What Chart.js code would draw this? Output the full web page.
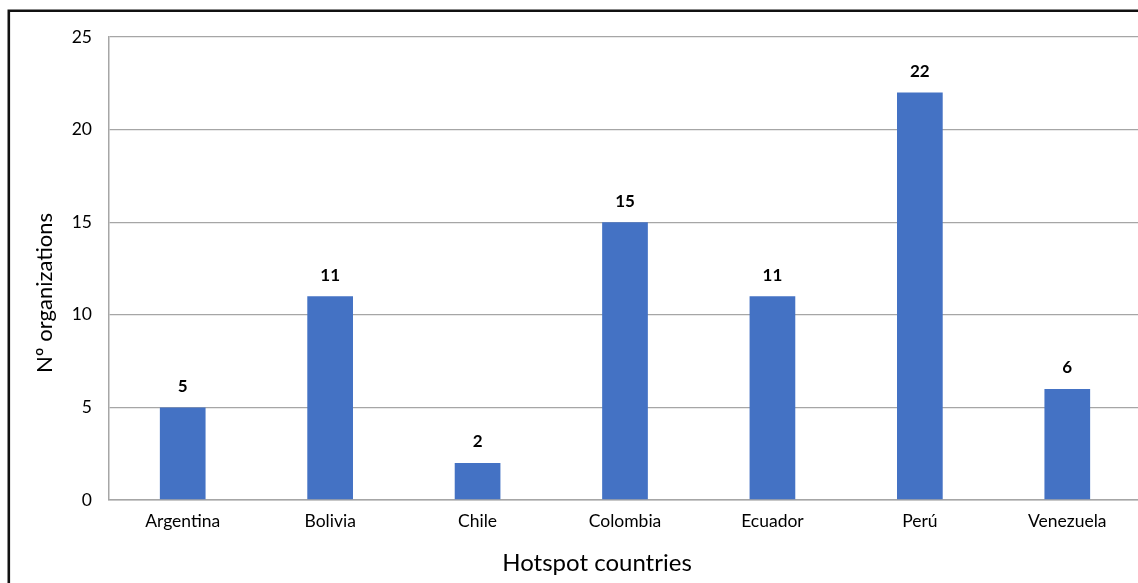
<!DOCTYPE html>
<html>
<head>
<meta charset="utf-8">
<script src="https://cdn.jsdelivr.net/npm/chart.js@4/dist/chart.umd.min.js"></script>
<style>
  html, body { margin: 0; padding: 0; background: #fff; overflow: hidden; }
  #wrap { position: relative; width: 1142px; height: 583px; }
</style>
</head>
<body>
<div id="wrap"><canvas id="c"></canvas></div>
<script>
// Organizations per hotspot country
const countries = ['Argentina', 'Bolivia', 'Chile', 'Colombia', 'Ecuador', 'Perú', 'Venezuela'];
const organizations = [5, 11, 2, 15, 11, 22, 6];
const yTicks = [0, 5, 10, 15, 20, 25];

const FONT = 'Lato, "Liberation Sans", sans-serif';
const GRID = '#a6a6a6';
const BAR = '#4472c4';

// Frame line on the left and top edges, plus the axis titles
const framePlugin = {
  id: 'frame',
  beforeDraw(chart) {
    const ctx = chart.ctx;
    ctx.save();
    ctx.fillStyle = '#fff';
    ctx.fillRect(0, 0, chart.width, chart.height);
    ctx.strokeStyle = '#111';
    ctx.lineWidth = 2.6;
    ctx.beginPath();
    ctx.moveTo(8.8, chart.height + 5);
    ctx.lineTo(8.8, 10.8);
    ctx.lineTo(chart.width + 5, 10.8);
    ctx.stroke();
    ctx.restore();
  },
  afterDraw(chart) {
    const ctx = chart.ctx;
    ctx.save();
    ctx.fillStyle = '#000';
    ctx.textAlign = 'center';
    ctx.textBaseline = 'middle';
    ctx.font = '24px ' + FONT;
    ctx.fillText('Hotspot countries', 597, 563);
    ctx.translate(45, 293);
    ctx.rotate(-Math.PI / 2);
    ctx.font = '22px ' + FONT;
    ctx.fillText('Nº organizations', 0, 0);
    ctx.restore();
  }
};

// Value labels above each bar
const valueLabels = {
  id: 'valueLabels',
  afterDatasetsDraw(chart) {
    const ctx = chart.ctx;
    const meta = chart.getDatasetMeta(0);
    ctx.save();
    ctx.font = 'bold 17px ' + FONT;
    ctx.fillStyle = '#000';
    ctx.textAlign = 'center';
    ctx.textBaseline = 'middle';
    meta.data.forEach((bar, i) => {
      ctx.fillText(String(organizations[i]), bar.x, bar.y - 21);
    });
    ctx.restore();
  }
};

new Chart(document.getElementById('c'), {
  type: 'bar',
  data: {
    labels: countries,
    datasets: [{
      data: organizations,
      backgroundColor: BAR,
      borderWidth: 0,
      categoryPercentage: 1,
      barPercentage: 0.31
    }]
  },
  options: {
    responsive: true,
    maintainAspectRatio: false,
    animation: false,
    devicePixelRatio: 1,
    layout: { padding: { top: 37, right: 1, left: 0, bottom: 0 } },
    plugins: {
      legend: { display: false },
      tooltip: { enabled: false }
    },
    scales: {
      x: {
        grid: { display: false, drawTicks: false },
        border: { display: true, color: GRID, width: 1.5 },
        ticks: { color: '#000', font: { family: FONT, size: 17.5 }, padding: 11, maxRotation: 0, autoSkip: false },
        afterFit(scale) { scale.height = 83; }
      },
      y: {
        min: 0,
        max: 25,
        afterBuildTicks(scale) { scale.ticks = yTicks.map(v => ({ value: v })); },
        grid: { color: GRID, lineWidth: 1.3, drawTicks: false },
        border: { display: true, color: GRID, width: 1.5 },
        ticks: { color: '#000', font: { family: FONT, size: 17.5 }, padding: 17 },
        afterFit(scale) { scale.width = 109; }
      }
    }
  },
  plugins: [framePlugin, valueLabels]
});
</script>
</body>
</html>
